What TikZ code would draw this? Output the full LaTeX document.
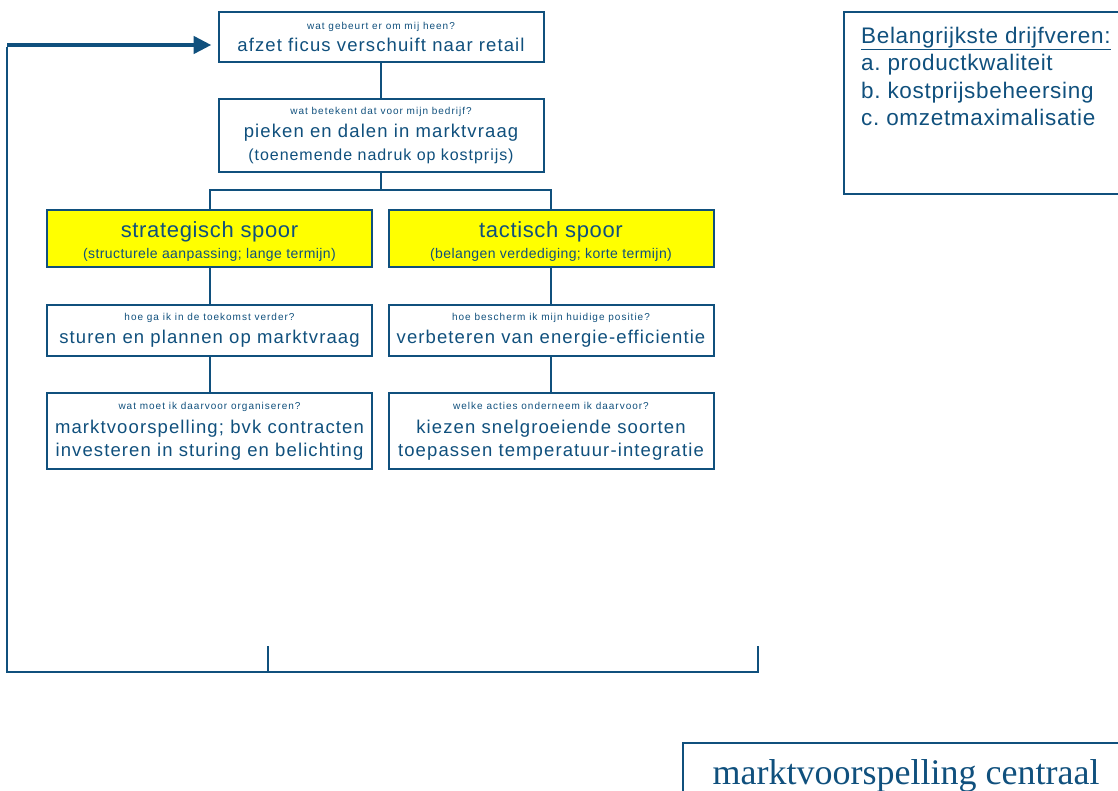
\documentclass[tikz,border=0pt]{standalone}
\usepackage{fontspec}
\setmainfont{Liberation Sans}
\newfontfamily\seriffont{Liberation Serif}
\newfontfamily\trackmain{Liberation Sans}[LetterSpace=6]
\newfontfamily\trackq{Liberation Sans}[LetterSpace=10]
\newfontfamily\trackhead{Liberation Sans}[LetterSpace=3]
\usetikzlibrary{arrows.meta}
\definecolor{navy}{RGB}{16,80,125}
\definecolor{spoorgeel}{RGB}{255,255,0}
% text styles for the boxes
\newcommand{\qfnt}{\trackq\fontsize{10}{12}\selectfont}
\newcommand{\mfnt}{\trackmain\fontsize{18.5}{22}\selectfont}
\newcommand{\pfnt}{\trackmain\fontsize{16}{19}\selectfont}
\newcommand{\tfnt}{\trackhead\fontsize{22}{24}\selectfont}
\newcommand{\sfnt}{\trackhead\fontsize{14}{16}\selectfont}
\begin{document}
\frenchspacing
\begin{tikzpicture}[x=1pt,y=-1pt,
  box/.style={draw=navy,line width=2pt,fill=white,text=navy,align=center,
    inner sep=0pt,minimum width=325pt,font=\fontsize{10}{22}\selectfont},
  spoorbox/.style={box,fill=spoorgeel,font=\fontsize{10}{20.5}\selectfont},
  link/.style={draw=navy,line width=2pt},
  feedback/.style={draw=navy,line width=4.5pt,shorten >=6pt,
    -{Triangle[length=18pt,width=17pt]}}]
\clip (0,0) rectangle (1118,790);
\useasboundingbox (0,0) rectangle (1118,790);

% central chain
\node[box,minimum height=50.6pt] (top) at (381,37)
  {{\qfnt wat gebeurt er om mij heen?}\\[0.5pt]{\mfnt afzet ficus verschuift naar retail}};
\node[box,minimum height=72.4pt] (meaning) at (381,135.5)
  {{\qfnt wat betekent dat voor mijn bedrijf?}\\[1.5pt]{\mfnt pieken en dalen in marktvraag}\\[1pt]{\pfnt (toenemende nadruk op kostprijs)}};

% two tracks
\node[spoorbox,minimum height=57.3pt] (strat) at (209.5,238.7)
  {{\tfnt\rule{0pt}{21.5pt}strategisch spoor}\\{\sfnt (structurele aanpassing; lange termijn)}};
\node[spoorbox,minimum height=57.3pt] (tact) at (551,238.7)
  {{\tfnt\rule{0pt}{21.5pt}tactisch spoor}\\{\sfnt (belangen verdediging; korte termijn)}};

\node[box,minimum height=50.7pt] (stratq) at (209.5,330.3)
  {{\qfnt hoe ga ik in de toekomst verder?}\\[1.3pt]{\mfnt sturen en plannen op marktvraag}};
\node[box,minimum height=50.7pt] (tactq) at (551,330.3)
  {{\qfnt hoe bescherm ik mijn huidige positie?}\\[1.3pt]{\mfnt verbeteren van energie-efficientie}};

\node[box,minimum height=75.7pt] (strata) at (209.5,431.2)
  {{\qfnt wat moet ik daarvoor organiseren?}\\[2pt]{\mfnt marktvoorspelling; bvk contracten}\\[1pt]{\mfnt investeren in sturing en belichting}};
\node[box,minimum height=75.7pt] (tacta) at (551,431.2)
  {{\qfnt welke acties onderneem ik daarvoor?}\\[2pt]{\mfnt kiezen snelgroeiende soorten}\\[1pt]{\mfnt toepassen temperatuur-integratie}};

% drivers panel
\node[draw=navy,line width=2pt,minimum width=300pt,minimum height=182pt,anchor=north west] (drivers) at (843,11) {};
\node[text=navy,align=left,anchor=north west,inner sep=0pt,font=\trackhead\fontsize{22.5}{27.5}\selectfont] (driverlist) at (861,26.5)
  {\underline{Belangrijkste drijfveren:}\\a. productkwaliteit\\b. kostprijsbeheersing\\c. omzetmaximalisatie};

% bottom banner
\node[draw=navy,line width=2pt,minimum width=460pt,minimum height=80pt,anchor=north west] (banner) at (682,742) {};
\node[text=navy,inner sep=0pt,anchor=base,font=\seriffont\fontsize{36}{40}\selectfont] (bannertext) at (906,784) {marktvoorspelling centraal};

% tree connectors
\coordinate (split) at (381,190);
\draw[link] (top.south) -- (meaning.north);
\draw[link] (meaning.south) -- (split);
\draw[link] (split) -| (strat.north);
\draw[link] (split) -| (tact.north);
\draw[link] (strat.south) -- (stratq.north);
\draw[link] (stratq.south) -- (strata.north);
\draw[link] (tact.south) -- (tactq.north);
\draw[link] (tactq.south) -- (tacta.north);

% feedback loop
\coordinate (loopTL) at (7,45);
\coordinate (loopTop) at (7,47);
\coordinate (loopBL) at (7,672);
\coordinate (loopBR) at (758,672);
\coordinate (loopMid) at (268,672);
\coordinate (tickA) at (268,646);
\coordinate (tickB) at (758,646);
\draw[link,line join=miter] (tickB) -- (loopBR) -- (loopBL) -- (loopTop);
\draw[link] (tickA) -- (loopMid);
\draw[feedback] (loopTL) -- (top.west |- loopTL);
\end{tikzpicture}
\end{document}
